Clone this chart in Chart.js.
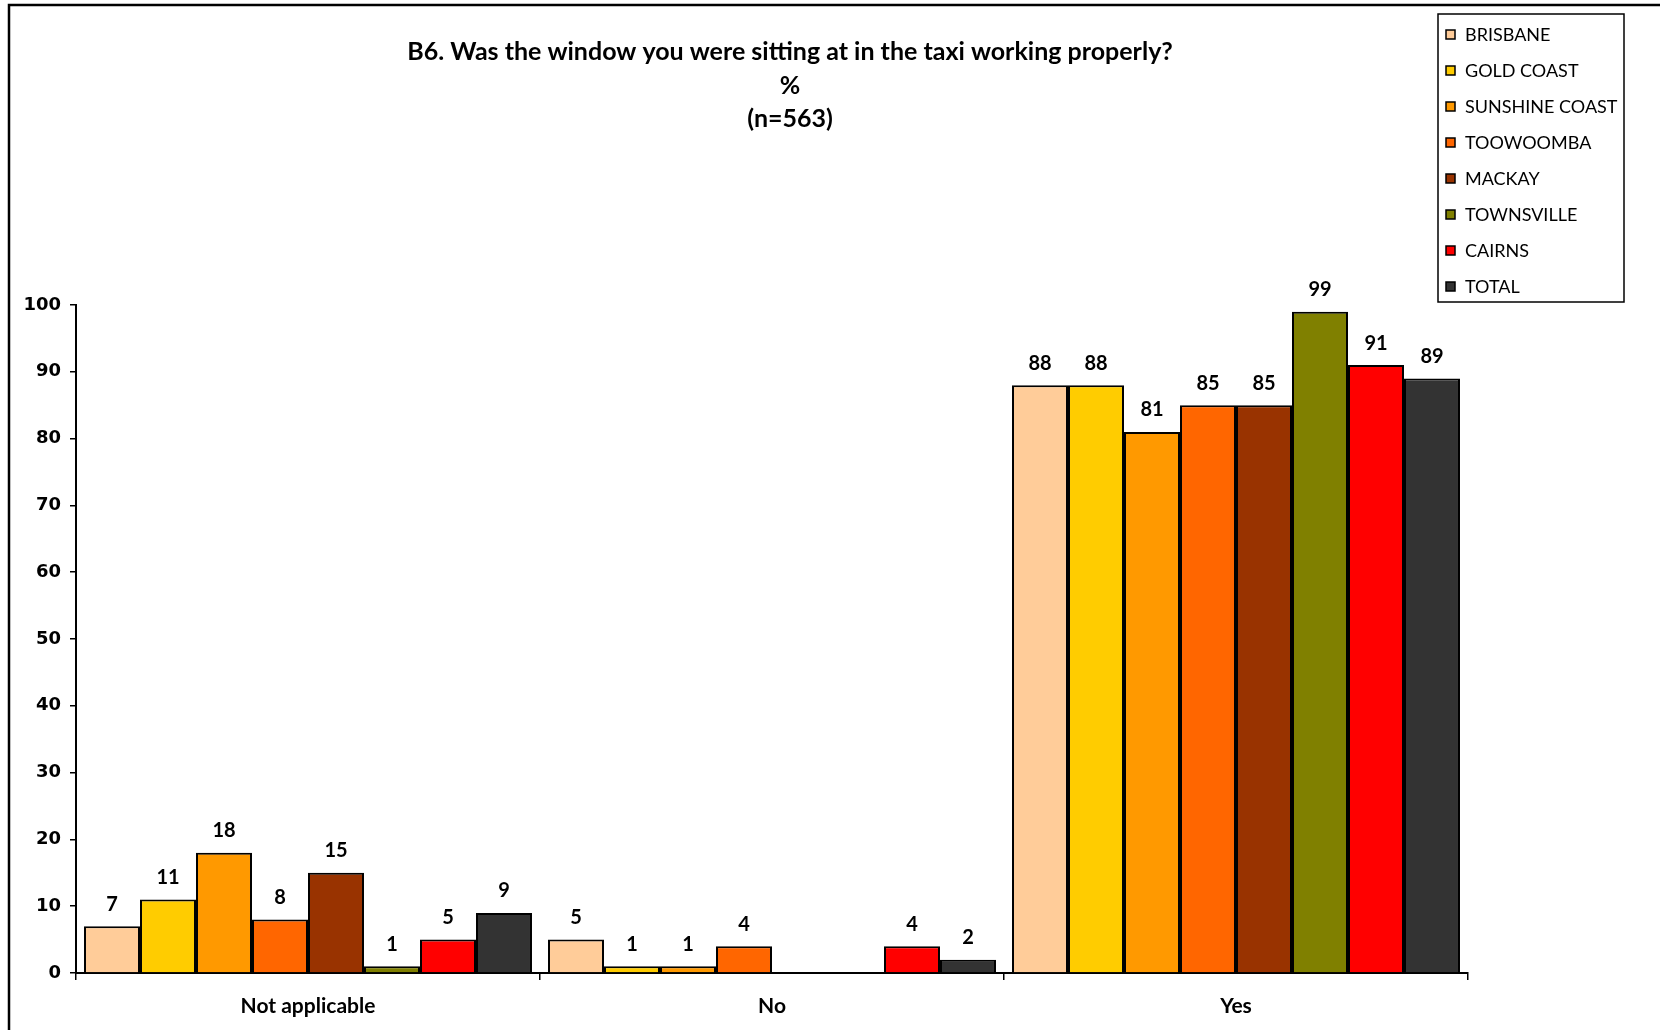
<!DOCTYPE html>
<html>
<head>
<meta charset="utf-8">
<script src="https://cdn.jsdelivr.net/npm/chart.js@4.4.1/dist/chart.umd.min.js"></script>
<style>
  html, body { margin: 0; padding: 0; background: #fff; }
  canvas { display: block; }
</style>
</head>
<body>
<canvas id="chart-area" width="1660" height="1030"></canvas>
<script>
var categories = ['Not applicable', 'No', 'Yes'];
var seriesNames = ['BRISBANE', 'GOLD COAST', 'SUNSHINE COAST', 'TOOWOOMBA', 'MACKAY', 'TOWNSVILLE', 'CAIRNS', 'TOTAL'];
var seriesColors = ['#FFCC99', '#FFCC00', '#FF9900', '#FF6600', '#993300', '#808000', '#FF0000', '#333333'];
var brisbane = [7, 5, 88];
var goldCoast = [11, 1, 88];
var sunshineCoast = [18, 1, 81];
var toowoomba = [8, 4, 85];
var mackay = [15, null, 85];
var townsville = [1, null, 99];
var cairns = [5, 4, 91];
var total = [9, 2, 89];
var yTicks = [0, 10, 20, 30, 40, 50, 60, 70, 80, 90, 100];
var titleLines = ['B6. Was the window you were sitting at in the taxi working properly?', '%', '(n=563)'];

var allSeries = [brisbane, goldCoast, sunshineCoast, toowoomba, mackay, townsville, cairns, total];
var datasets = [];
for (var i = 0; i < allSeries.length; i++) {
    datasets.push({
        label: seriesNames[i],
        data: allSeries[i],
        backgroundColor: seriesColors[i],
        borderColor: '#000',
        borderWidth: 2,
        borderSkipped: 'bottom',
        categoryPercentage: 0.9655,
        barPercentage: 1.0
    });
}

// frame, title and legend drawn on the canvas
var decorPlugin = {
    id: 'decor',
    beforeDraw: function (chart) {
        var ctx = chart.ctx;
        ctx.save();
        ctx.fillStyle = '#fff';
        ctx.fillRect(0, 0, chart.width, chart.height);
        ctx.strokeStyle = '#000';
        ctx.lineWidth = 2.5;
        ctx.strokeRect(9, 5, 1700, 1100);
        ctx.restore();
    },
    afterDraw: function (chart) {
        var ctx = chart.ctx;
        ctx.save();
        ctx.fillStyle = '#000';
        ctx.textAlign = 'center';
        ctx.textBaseline = 'middle';
        ctx.font = 'bold 25px Lato';
        var ty = [52, 86, 119];
        for (var i = 0; i < titleLines.length; i++) {
            ctx.fillText(titleLines[i], 790, ty[i]);
        }
        // legend
        ctx.lineWidth = 1.5;
        ctx.strokeStyle = '#000';
        ctx.strokeRect(1438, 14, 186, 288);
        ctx.font = '18px Lato';
        ctx.textAlign = 'left';
        chart.data.datasets.forEach(function (ds, j) {
            var y = 34.5 + j * 36;
            ctx.fillStyle = ds.backgroundColor;
            ctx.fillRect(1446, y - 4.5, 9, 9);
            ctx.lineWidth = 1.5;
            ctx.strokeRect(1446, y - 4.5, 9, 9);
            ctx.fillStyle = '#000';
            ctx.fillText(ds.label, 1465, y + 1);
        });
        ctx.restore();
    },
    afterDatasetsDraw: function (chart) {
        var ctx = chart.ctx;
        ctx.save();
        ctx.fillStyle = '#000';
        ctx.font = 'bold 20px Lato';
        ctx.textAlign = 'center';
        ctx.textBaseline = 'middle';
        chart.data.datasets.forEach(function (ds, i) {
            var meta = chart.getDatasetMeta(i);
            meta.data.forEach(function (bar, k) {
                var v = ds.data[k];
                if (v === null || v === undefined) return;
                ctx.fillText(String(v), bar.x, bar.y - 22);
            });
        });
        ctx.restore();
    }
};

var config = {
    type: 'bar',
    data: {
        labels: categories,
        datasets: datasets
    },
    options: {
        responsive: false,
        animation: false,
        layout: {
            padding: {left: 0, right: 192, top: 305, bottom: 0}
        },
        plugins: {
            legend: {display: false},
            title: {display: false},
            tooltip: {enabled: false}
        },
        scales: {
            x: {
                offset: true,
                grid: {
                    offset: true,
                    drawOnChartArea: false,
                    tickLength: 7,
                    color: '#000',
                    lineWidth: 1.5
                },
                border: {display: true, color: '#000', width: 2},
                ticks: {
                    color: '#000',
                    padding: 14,
                    font: {family: 'Lato', size: 21, weight: 'bold'}
                },
                afterFit: function (scale) {
                    scale.height = 57;
                }
            },
            y: {
                min: 0,
                max: 100,
                grid: {
                    drawOnChartArea: false,
                    tickLength: 6,
                    color: '#000',
                    lineWidth: 1.5
                },
                border: {display: true, color: '#000', width: 2},
                afterBuildTicks: function (scale) {
                    scale.ticks = yTicks.map(function (v) { return {value: v}; });
                },
                ticks: {
                    color: '#000',
                    padding: 9,
                    font: {family: 'DejaVu Sans', size: 18, weight: 'bold'}
                },
                afterFit: function (scale) {
                    scale.width = 76;
                }
            }
        }
    },
    plugins: [decorPlugin]
};

var myChart = new Chart(document.getElementById('chart-area').getContext('2d'), config);
</script>
</body>
</html>
